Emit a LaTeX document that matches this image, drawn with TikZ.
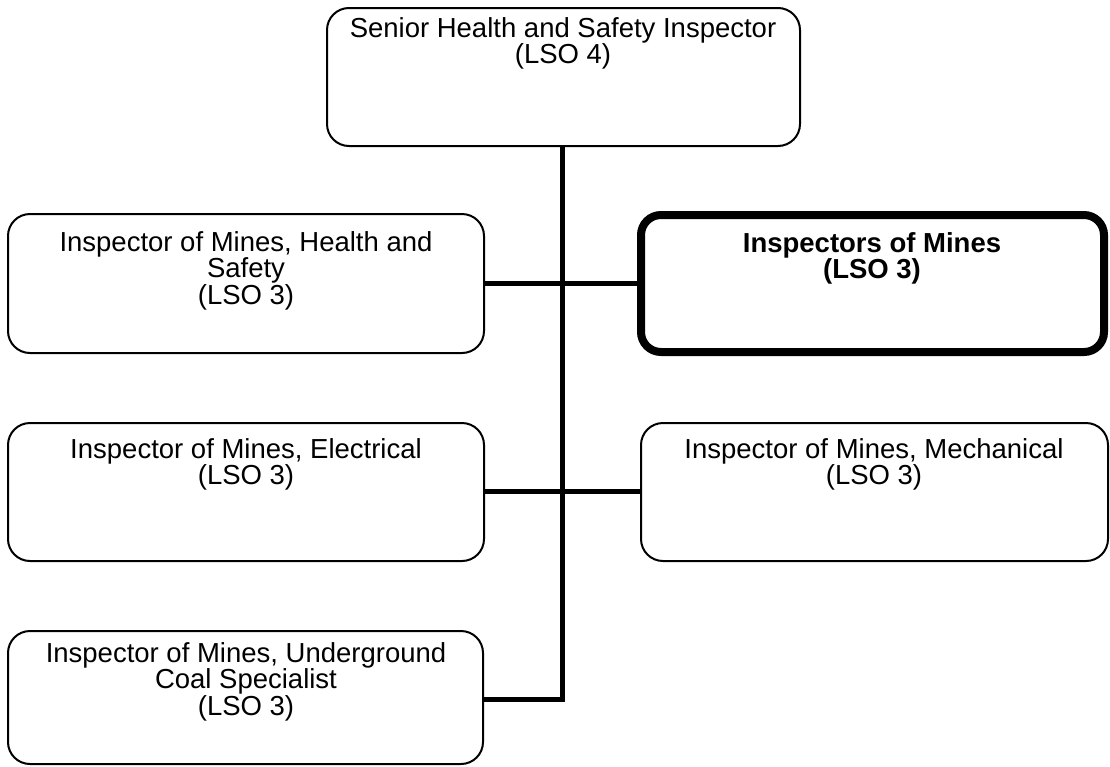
\documentclass[tikz,border=0pt]{standalone}
\usepackage{fontspec}
\setmainfont{Liberation Sans}
\begin{document}
\begin{tikzpicture}[x=1pt,y=-1pt,
  box/.style={draw=black,line width=2pt,rounded corners=22pt},
  keybox/.style={draw=black,line width=8pt,rounded corners=20pt},
  label/.style={anchor=north,inner sep=0pt,align=center,font=\fontsize{27.5pt}{25.5pt}\selectfont},
  link/.style={line width=5pt}]
\useasboundingbox (0,0) rectangle (1110,766);
% boxes
\draw[box] (327,8) rectangle (800,146);
\draw[box] (8,214) rectangle (484,353);
\draw[keybox] (641,215) rectangle (1104,352);
\draw[box] (8,423) rectangle (484,561);
\draw[box] (641,423) rectangle (1108,561);
\draw[box] (8,631) rectangle (483,764);
% named anchors
\coordinate (topb) at (562,146);
\coordinate (l1) at (484,283);
\coordinate (r1) at (637,283);
\coordinate (l2) at (484,491);
\coordinate (r2) at (641,491);
\coordinate (l3) at (483,699);
\coordinate (j3) at (562,699);
% labels
\node[label] (t0) at (563,16) {\rule{0pt}{21pt}Senior Health and Safety Inspector\\(LSO 4)};
\node[label] (t1) at (246,230) {\rule{0pt}{21pt}Inspector of Mines, Health and\\Safety\\(LSO 3)};
\node[label,font=\fontsize{27.5pt}{25pt}\selectfont\bfseries] (t2) at (872,231) {\rule{0pt}{21pt}Inspectors of Mines\\(LSO 3)};
\node[label] (t3) at (246,437) {\rule{0pt}{21pt}Inspector of Mines, Electrical\\(LSO 3)};
\node[label] (t4) at (874,437) {\rule{0pt}{21pt}Inspector of Mines, Mechanical\\(LSO 3)};
\node[label] (t5) at (246,641) {\rule{0pt}{21pt}Inspector of Mines, Underground\\Coal Specialist\\(LSO 3)};
% connectors
\draw[link] (topb) -- (j3) -- (l3);
\draw[link] (l1) -- (r1);
\draw[link] (l2) -- (r2);
\end{tikzpicture}
\end{document}
